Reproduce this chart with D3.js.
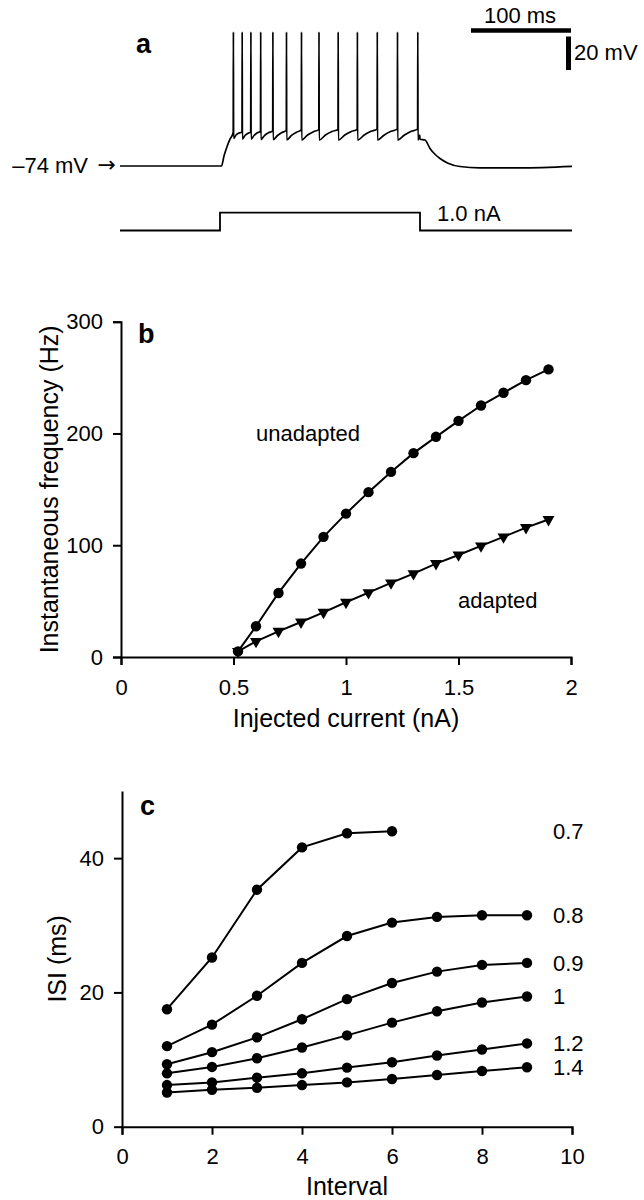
<!DOCTYPE html>
<html>
<head>
<meta charset="utf-8">
<script src="https://cdn.jsdelivr.net/npm/d3@7"></script>
<style>
    body { margin: 0; background: #fff; }
    svg { display: block; font-family: "Liberation Sans", Arial, Helvetica, sans-serif; }
    .axis path, .axis line { stroke: #000; stroke-width: 2; }
    .axis text { font-size: 22px; fill: #000; }
</style>
</head>
<body>
<script>
// ---- panel a: membrane potential (ms, mV) and current step (ms, nA)
const memTrace = [
    [0, -74], [101.5, -74], [104, -68], [107, -62.5], [110, -58], [113.2, -54],
    [113.4, 6], [113.6, -57.5], [116, -55.5], [119, -54.3], [122, -53.8],
    [122.2, 6], [122.4, -58], [125, -55.8], [128, -54.5], [130.7, -53.6],
    [130.9, 6], [131.1, -58], [134, -55.8], [137, -54.3], [140.5, -53.3],
    [140.7, 6], [140.9, -58.2], [144.5, -55.8], [148.5, -54.2], [152.7, -53],
    [152.9, 6], [153.1, -58.3], [157.5, -55.8], [162, -54], [166.3, -52.8],
    [166.5, 6], [166.7, -58.4], [171.5, -55.7], [176.5, -53.8], [181.3, -52.5],
    [181.5, 6], [181.7, -58.5], [187.5, -55.5], [193.5, -53.5], [198.8, -52.3],
    [199, 6], [199.2, -58.5], [205.5, -55.5], [212, -53.4], [218, -52.2],
    [218.2, 6], [218.4, -58.5], [224.8, -55.5], [231.3, -53.4], [237.2, -52.1],
    [237.4, 6], [237.6, -58.5], [244.2, -55.5], [251, -53.3], [257.1, -52],
    [257.3, 6], [257.5, -58.5], [264.3, -55.5], [271, -53.3], [277.3, -52],
    [277.5, 6], [277.7, -58.5], [284.5, -55.5], [291.3, -53.3], [297.6, -52],
    [297.8, 6], [298, -58.5], [299.7, -55.5], [300, -58], [305, -58.5],
    [310, -63.5], [315, -67], [320, -69.5], [328, -72.3], [340, -74.3],
    [360, -75.1], [400, -75.1], [452, -74.2]
];
const stepTimes = [0, 100, 100, 300, 300, 452];
const stepCurrent = [0, 0, 1, 1, 0, 0];

// ---- panel b: f-I curves
const injCurrent = [0.52, 0.6, 0.7, 0.8, 0.9, 1.0, 1.1, 1.2, 1.3, 1.4, 1.5, 1.6, 1.7, 1.8, 1.9];
const unadapted = [5, 27.5, 57.3, 83.6, 107.5, 128.3, 147.5, 165.6, 182.4, 197, 211.3, 225, 236.4, 247.7, 257.3];
const adapted = [5, 14, 23, 31.3, 40, 49, 57.6, 66.3, 74.6, 83.6, 91.3, 99.4, 107.5, 115.8, 123];
const bTicksX = [0, 0.5, 1, 1.5, 2];
const bTicksY = [0, 100, 200, 300];

// ---- panel c: ISI vs interval number, one curve per current (nA)
const intervals = [1, 2, 3, 4, 5, 6, 7, 8, 9];
const isiLabels = ["0.7", "0.8", "0.9", "1", "1.2", "1.4"];
const isi07 = [17.5, 25.2, 35.3, 41.6, 43.7, 44.0];
const isi08 = [12.0, 15.2, 19.5, 24.4, 28.4, 30.4, 31.25, 31.5, 31.5];
const isi09 = [9.3, 11.1, 13.3, 16.0, 19.0, 21.4, 23.1, 24.1, 24.4];
const isi10 = [7.95, 8.9, 10.2, 11.8, 13.6, 15.5, 17.2, 18.5, 19.4];
const isi12 = [6.2, 6.6, 7.3, 7.95, 8.8, 9.6, 10.6, 11.5, 12.4];
const isi14 = [5.1, 5.5, 5.8, 6.2, 6.6, 7.1, 7.7, 8.3, 8.85];
const cTicksX = [0, 2, 4, 6, 8, 10];
const cTicksY = [0, 20, 40];

const svg = d3.select("body").append("svg")
    .attr("width", 644)
    .attr("height", 1200);
svg.append("rect").attr("width", 644).attr("height", 1200).attr("fill", "#fff");

function label(x, y, txt, size, weight, anchor) {
    return svg.append("text")
        .attr("x", x).attr("y", y)
        .attr("font-size", size)
        .attr("font-weight", weight || "normal")
        .attr("text-anchor", anchor || "start")
        .text(txt);
}

// ================= panel a =================
const tA = d3.scaleLinear().domain([0, 452]).range([120, 572]);
const vA = d3.scaleLinear().domain([-74, 6]).range([166, 32]);
const iA = d3.scaleLinear().domain([0, 1]).range([230.5, 212.7]);

svg.append("path")
    .datum(memTrace)
    .attr("fill", "none")
    .attr("stroke", "#000")
    .attr("stroke-width", 1.7)
    .attr("d", d3.line().x(d => tA(d[0])).y(d => vA(d[1])).curve(d3.curveMonotoneX));

svg.append("path")
    .datum(d3.range(stepTimes.length))
    .attr("fill", "none")
    .attr("stroke", "#000")
    .attr("stroke-width", 1.8)
    .attr("d", d3.line().x(i => tA(stepTimes[i])).y(i => iA(stepCurrent[i])));

// scale bars: 100 ms, 20 mV
const barRight = 571;
svg.append("line")
    .attr("x1", barRight - (tA(100) - tA(0))).attr("x2", barRight)
    .attr("y1", 30.5).attr("y2", 30.5)
    .attr("stroke", "#000").attr("stroke-width", 4.5);
svg.append("line")
    .attr("x1", barRight - 2.5).attr("x2", barRight - 2.5)
    .attr("y1", 36.5).attr("y2", 36.5 + (vA(-74) - vA(-54)))
    .attr("stroke", "#000").attr("stroke-width", 5);

label(520, 23, "100 ms", 22, null, "middle");
label(574, 60, "20 mV", 22);
label(88, 173, "\u201374 mV", 22, null, "end");
label(116, 172, "\u2192", 22, null, "end").attr("font-family", "DejaVu Sans");
label(437, 221, "1.0 nA", 22);
label(136, 53, "a", 27, "bold");

// ================= panel b =================
const xB = d3.scaleLinear().domain([0, 2]).range([121, 571]);
const yB = d3.scaleLinear().domain([0, 300]).range([657, 321.7]);

svg.append("g").attr("class", "axis")
    .attr("transform", "translate(0," + yB(0) + ")")
    .call(d3.axisBottom(xB).tickValues(bTicksX).tickFormat(d3.format("")).tickSize(8).tickPadding(14.5));
svg.append("g").attr("class", "axis")
    .attr("transform", "translate(" + xB(0) + ",0)")
    .call(d3.axisLeft(yB).tickValues(bTicksY).tickSize(8).tickPadding(10));

const lineB = d3.line().x(d => xB(d[0])).y(d => yB(d[1]));
const unadPts = d3.zip(injCurrent, unadapted);
const adPts = d3.zip(injCurrent, adapted);

[unadPts, adPts].forEach(pts => {
    svg.append("path").datum(pts)
        .attr("fill", "none").attr("stroke", "#000").attr("stroke-width", 2)
        .attr("d", lineB);
});
svg.append("g").selectAll("circle")
    .data(unadPts)
    .join("circle")
    .attr("cx", d => xB(d[0])).attr("cy", d => yB(d[1]))
    .attr("r", 5.2).attr("fill", "#000");
svg.append("g").selectAll("path")
    .data(adPts)
    .join("path")
    .attr("d", d3.symbol(d3.symbolTriangle, 62))
    .attr("transform", d => "translate(" + xB(d[0]) + "," + yB(d[1]) + ") rotate(180)")
    .attr("fill", "#000");

label(256, 441, "unadapted", 22);
label(458, 608, "adapted", 22);
label(138, 343, "b", 27, "bold");
svg.append("text")
    .attr("transform", "translate(58," + (yB(0) + yB(300)) / 2 + ") rotate(-90)")
    .attr("text-anchor", "middle").attr("font-size", 25)
    .text("Instantaneous frequency (Hz)");
label(346, 727, "Injected current (nA)", 25, null, "middle");

// ================= panel c =================
const xC = d3.scaleLinear().domain([0, 10]).range([122, 572]);
const yC = d3.scaleLinear().domain([0, 50]).range([1126.7, 791]);

svg.append("g").attr("class", "axis")
    .attr("transform", "translate(0," + yC(0) + ")")
    .call(d3.axisBottom(xC).tickValues(cTicksX).tickSize(8).tickPadding(14));
svg.append("g").attr("class", "axis")
    .attr("transform", "translate(" + xC(0) + ",0)")
    .call(d3.axisLeft(yC).tickValues(cTicksY).tickSize(8).tickSizeOuter(0).tickPadding(10));

const isiSeries = [isi07, isi08, isi09, isi10, isi12, isi14];
const lineC = d3.line().x(d => xC(d[0])).y(d => yC(d[1]));

isiSeries.forEach((vals, k) => {
    const pts = d3.zip(intervals.slice(0, vals.length), vals);
    svg.append("path").datum(pts)
        .attr("fill", "none").attr("stroke", "#000").attr("stroke-width", 2)
        .attr("d", lineC);
    svg.append("g").selectAll("circle")
        .data(pts)
        .join("circle")
        .attr("cx", d => xC(d[0])).attr("cy", d => yC(d[1]))
        .attr("r", 5.2).attr("fill", "#000");
    svg.append("text")
        .attr("x", 553).attr("y", yC(vals[vals.length - 1]))
        .attr("dy", "0.36em").attr("font-size", 22)
        .text(isiLabels[k]);
});

label(140, 815, "c", 27, "bold");
svg.append("text")
    .attr("transform", "translate(66," + (yC(0) + yC(50)) / 2 + ") rotate(-90)")
    .attr("text-anchor", "middle").attr("font-size", 25)
    .text("ISI (ms)");
label(347, 1195, "Interval", 25, null, "middle");
</script>
</body>
</html>
